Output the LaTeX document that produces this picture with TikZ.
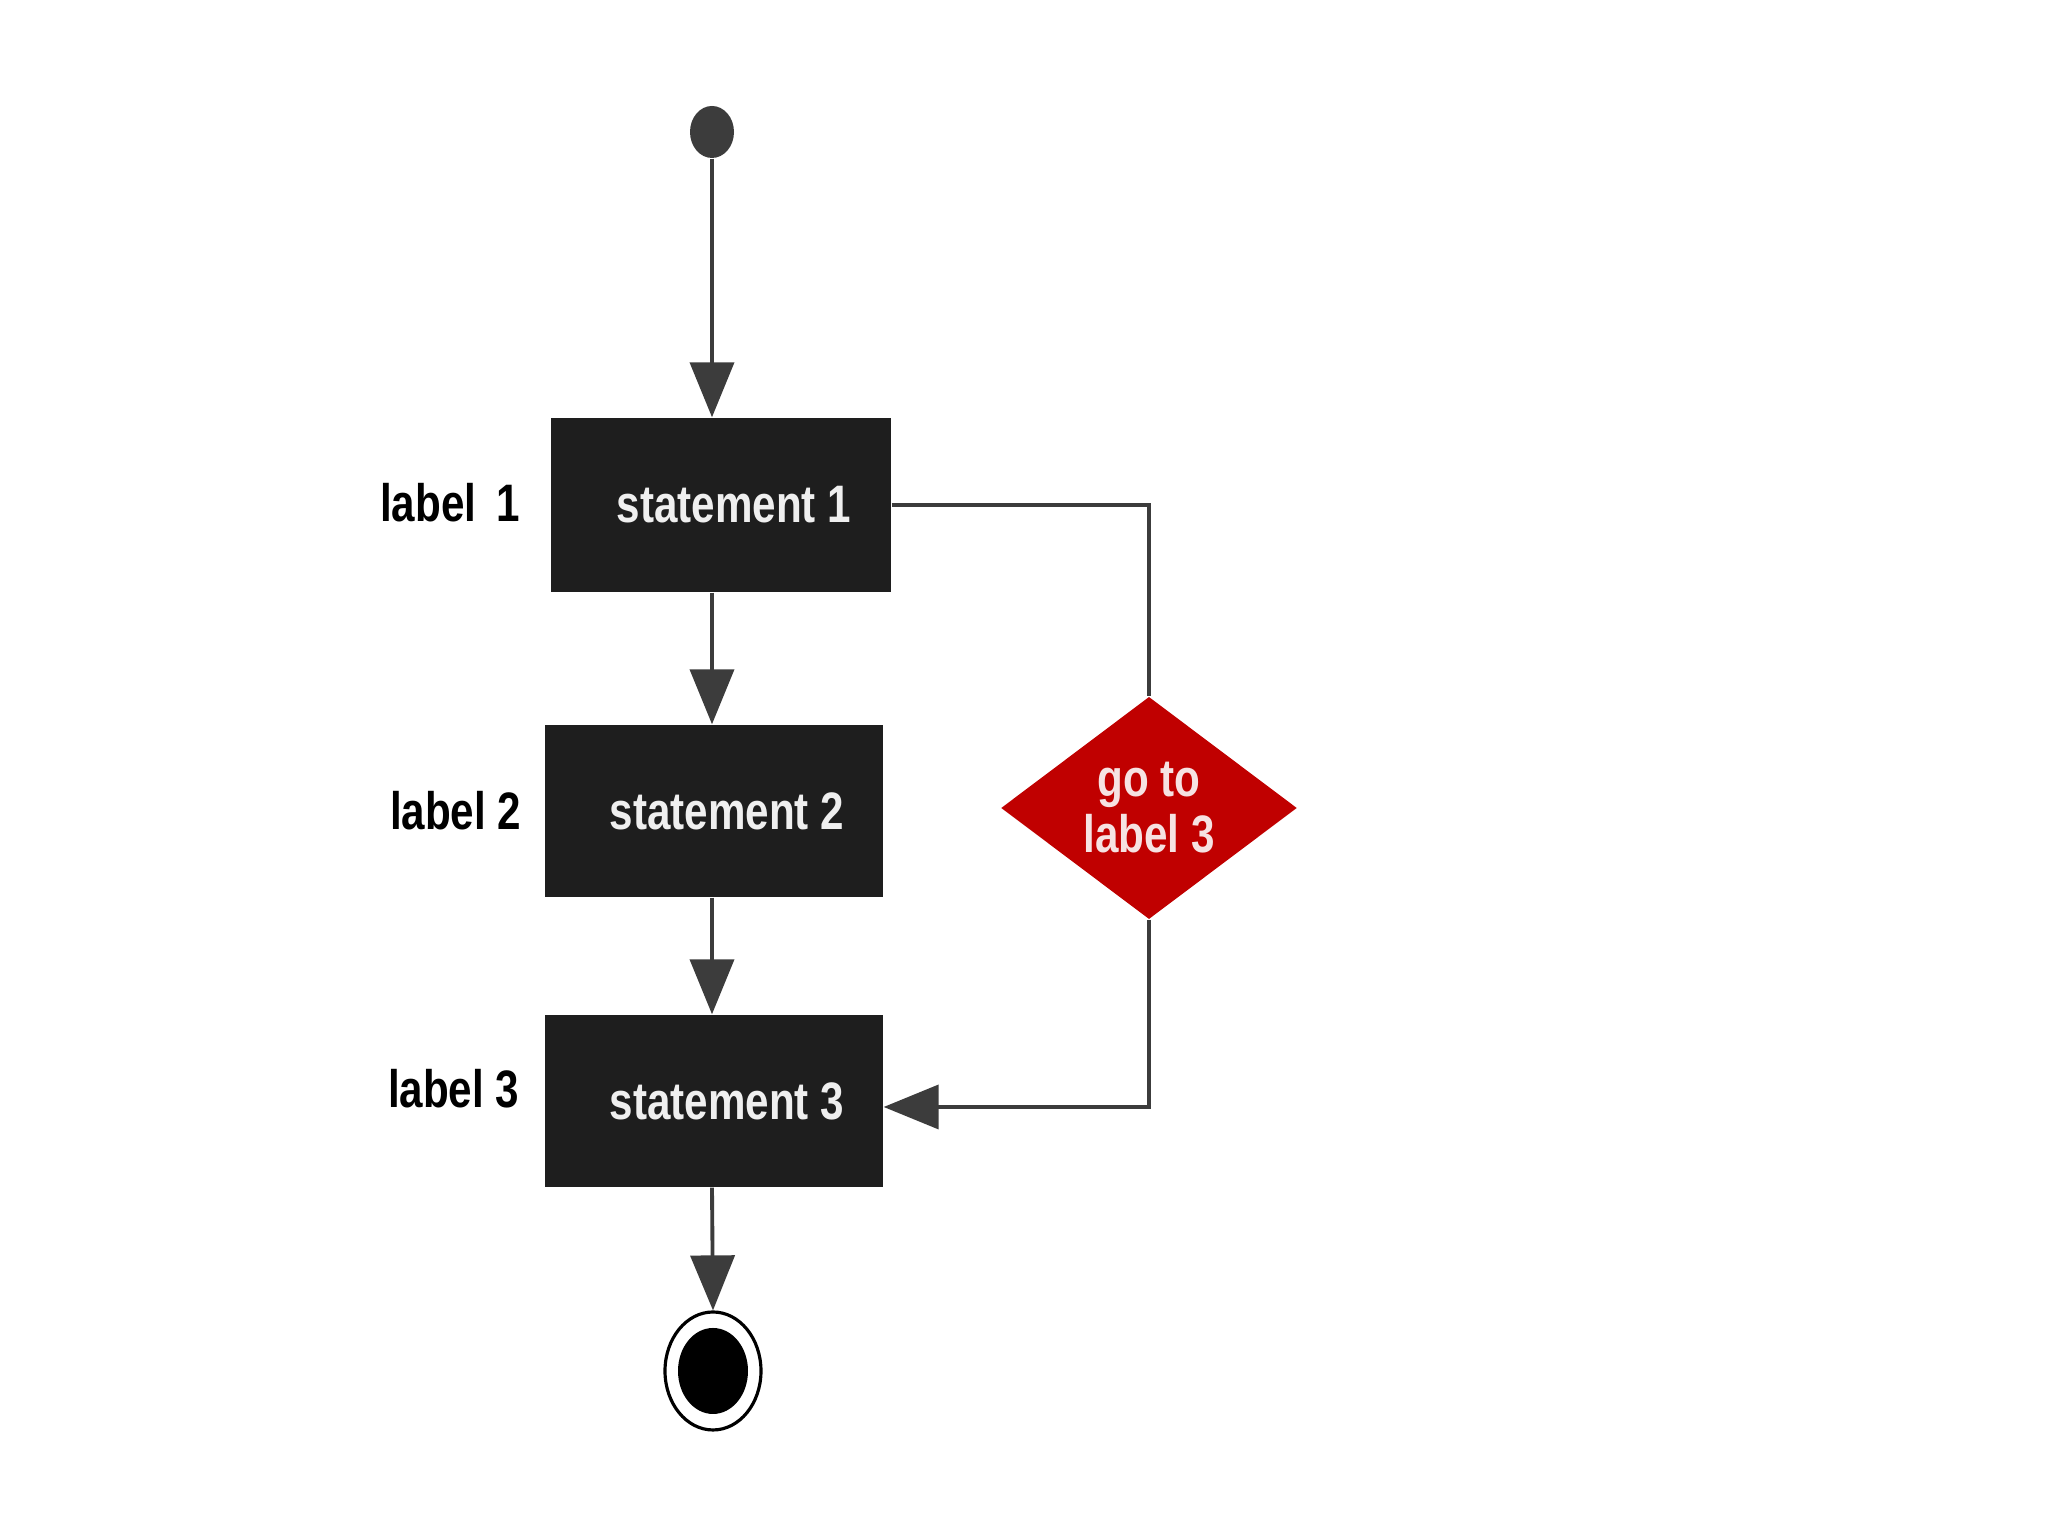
\documentclass[tikz,border=0pt]{standalone}
\usepackage{fontspec}
\usepackage{tikz}
\usetikzlibrary{arrows.meta,positioning,shapes.geometric}
\newfontfamily\flowfont{Liberation Sans}[FakeStretch=0.8]
\definecolor{boxink}{HTML}{1E1E1E}
\definecolor{wire}{HTML}{3C3C3C}
\definecolor{jump}{HTML}{C00000}
\definecolor{boxtext}{HTML}{EFEFEF}
\definecolor{jumptext}{HTML}{F6E2E2}

\begin{document}
\begin{tikzpicture}[x=1cm, y=1cm,
    stmt/.style={rectangle, fill=boxink, text=boxtext, minimum width=3.38cm,
                 minimum height=1.72cm, inner sep=0pt,
                 font=\flowfont\bfseries\fontsize{15}{17}\selectfont},
    lbl/.style={anchor=east, inner sep=0pt, text=black,
                font=\flowfont\bfseries\fontsize{15}{17}\selectfont},
    flow/.style={draw=wire, line width=1.1pt,
                 -{Triangle[width=0.44cm, length=0.55cm]}}]
  \useasboundingbox[fill=white] (0,0) rectangle (20.48,15.36);

  \node[ellipse, fill=wire, minimum width=0.44cm, minimum height=0.52cm,
        inner sep=0pt] (start) at (7.12,14.04) {};
  \node[stmt, minimum width=3.40cm, minimum height=1.74cm] (s1) at (7.21,10.31)
       {\hspace*{0.26cm}statement 1};
  \node[stmt] (s2) at (7.14,7.25) {\hspace*{0.26cm}statement 2};
  \node[stmt] (s3) at (7.14,4.35) {\hspace*{0.26cm}statement 3};
  \node[diamond, fill=jump, text=jumptext, minimum width=2.96cm,
        minimum height=2.14cm, inner sep=0pt, align=center,
        font=\flowfont\bfseries\fontsize{15}{16}\selectfont] (goto) at (11.49,7.28)
       {go to\\label 3};

  \node[lbl] (l1) at (5.21,10.33) {label\, 1};
  \node[lbl] (l2) at (5.22,7.25) {label 2};
  \node[lbl] (l3) at (5.20,4.47) {label 3};

  \node[ellipse, draw=black, line width=0.9pt, fill=white, minimum width=0.96cm,
        minimum height=1.18cm, inner sep=0pt] (endring) at (7.13,1.65) {};
  \node[ellipse, fill=black, minimum width=0.70cm, minimum height=0.86cm,
        inner sep=0pt] (enddot) at (endring.center) {};

  \draw[flow] (start.south) -- (s1.north -| start);
  \draw[flow] (s1.south -| start) -- (s2.north -| start);
  \draw[flow] (s2.south -| start) -- (s3.north -| start);
  \draw[flow] (s3.south -| start) -- (endring.north);
  \draw[draw=wire, line width=1.1pt] (s1.east) -| (goto.north);
  \draw[flow] (goto.south) |- ([yshift=-0.06cm]s3.east);
\end{tikzpicture}
\end{document}
